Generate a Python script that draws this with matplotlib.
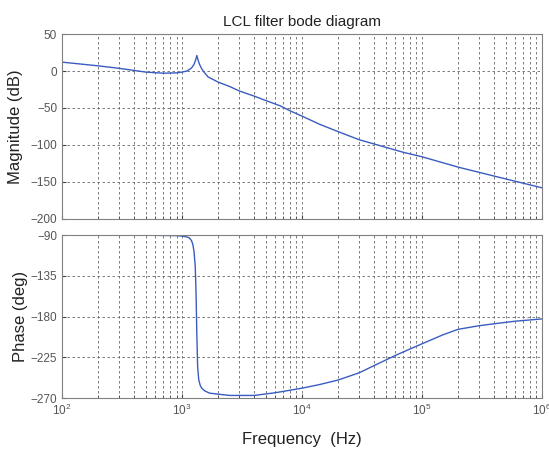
import numpy as np
import matplotlib.pyplot as plt
from matplotlib.ticker import LogLocator, NullFormatter

plt.rcParams['font.family'] = ['Liberation Sans', 'DejaVu Sans']
plt.rcParams['mathtext.default'] = 'regular'

# values
mag_freq = [100, 200, 300, 500, 700, 900, 1000, 1100, 1200, 1260, 1300, 1330,
            1360, 1400, 1450, 1500, 1650, 2000, 2500, 3000, 4000, 5000, 6560,
            8000, 10000, 14000, 20000, 30000, 47000, 70000, 100000, 200000,
            420000, 1000000]
mag_db = [12, 7, 3.6, -1.5, -3, -2.5, -1.5, 0, 4, 9, 15, 21,
          15, 9, 4, 0, -8, -15, -21, -27, -34, -40, -47,
          -54, -61, -72, -82, -93, -102, -110, -116, -130,
          -143, -158]

phase_freq = [100, 500, 900, 1000, 1100, 1150, 1200, 1230, 1260, 1290, 1310,
              1330, 1350, 1380, 1420, 1460, 1550, 1700, 2500, 4000, 6000,
              10000, 14000, 20000, 30000, 40000, 62000, 100000, 150000,
              200000, 300000, 420000, 600000, 1000000]
phase_deg = [-90, -90, -90.5, -91, -92, -93, -96, -100, -108, -125, -155,
             -200, -235, -250, -256, -259, -262, -264.5, -267, -267, -264,
             -259, -255, -250, -242, -234, -222, -210, -200,
             -194, -190, -187.5, -185, -182.5]

line_color = '#3a5cc0'
grid_kw = dict(color='#666666', linestyle=(0, (3, 3)), linewidth=0.6)

fig = plt.figure(figsize=(5.49, 4.54), dpi=100)
ax1 = fig.add_axes([0.113, 0.518, 0.874, 0.407])
ax2 = fig.add_axes([0.113, 0.123, 0.874, 0.359])

ax1.semilogx(mag_freq, mag_db, color=line_color, linewidth=1.0)
ax2.semilogx(phase_freq, phase_deg, color=line_color, linewidth=1.0)

ax1.set_ylim(-200, 50)
ax1.set_yticks([-200, -150, -100, -50, 0, 50])
ax2.set_ylim(-270, -90)
ax2.set_yticks([-270, -225, -180, -135, -90])

for ax in (ax1, ax2):
    ax.set_xlim(1e2, 1e6)
    ax.xaxis.set_major_locator(LogLocator(base=10, numticks=10))
    ax.xaxis.set_minor_locator(LogLocator(base=10, subs=np.arange(2, 10), numticks=50))
    ax.xaxis.set_minor_formatter(NullFormatter())
    ax.grid(True, which='major', **grid_kw)
    ax.grid(True, which='minor', axis='x', **grid_kw)
    ax.tick_params(which='both', direction='in', length=3, labelsize=8.5,
                   colors='#444444', labelcolor='#555555')
    ax.tick_params(which='minor', length=2)
    for s in ax.spines.values():
        s.set_color('#808080')

ax1.tick_params(labelbottom=False)

ax1.set_title('LCL filter bode diagram', fontsize=11, color='#222222', pad=6)
ax1.set_ylabel('Magnitude (dB)', fontsize=12, color='#222222', labelpad=5)
ax2.set_ylabel('Phase (deg)', fontsize=12, color='#222222', labelpad=2)
ax2.set_xlabel('Frequency  (Hz)', fontsize=12, color='#222222', labelpad=10)

fig.savefig('out.png', dpi=100)
